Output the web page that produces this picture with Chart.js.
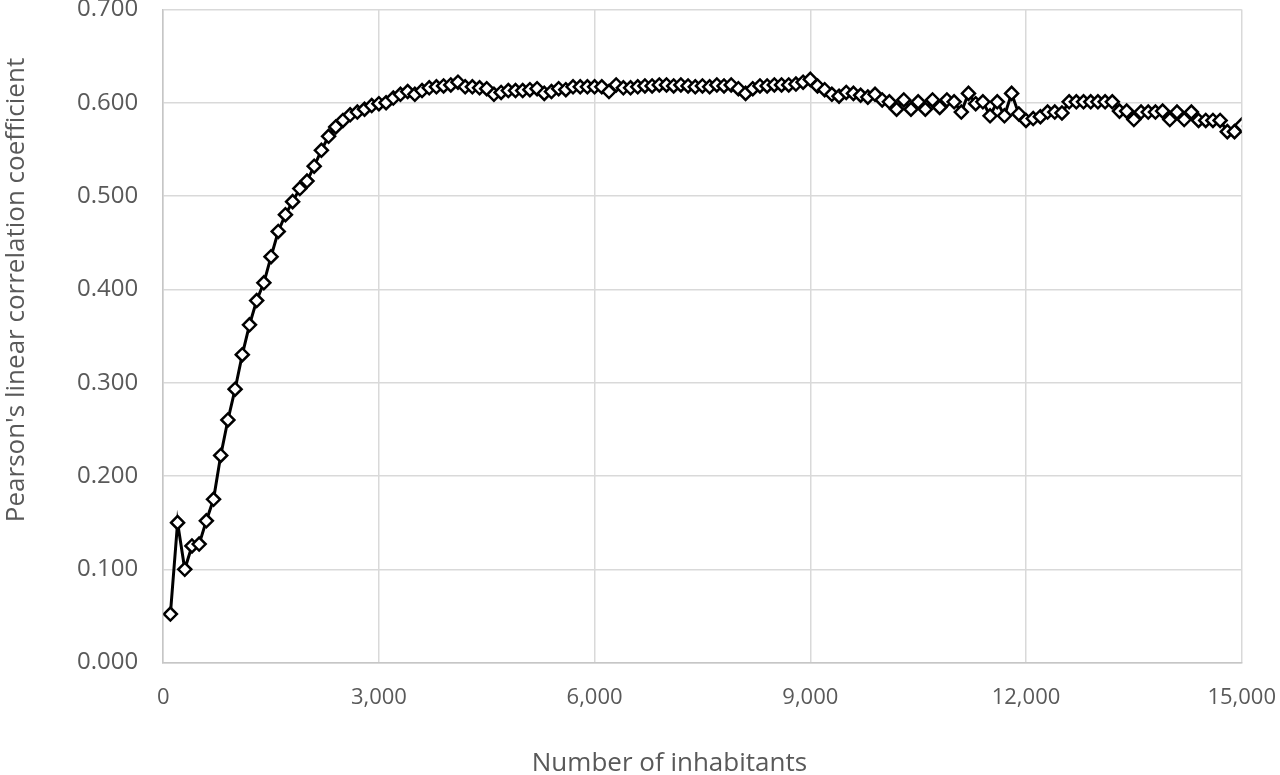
<!DOCTYPE html>
<html>
<head>
<meta charset="utf-8">
<script src="https://cdn.jsdelivr.net/npm/chart.js@4/dist/chart.umd.min.js"></script>
<style>
  html, body { margin: 0; padding: 0; background: #fff; }
  #wrap { position: relative; width: 1280px; height: 775px; overflow: hidden; }
  #chart { position: absolute; left: 0; top: -30px; }
</style>
</head>
<body>
<div id="wrap"><canvas id="chart" width="1298" height="809"></canvas></div>
<script>
// Number of inhabitants (x) and Pearson's r (y)
const inhabitants = [
  100, 200, 300, 400, 500, 600, 700, 800, 900, 1000,
  1100, 1200, 1300, 1400, 1500, 1600, 1700, 1800, 1900, 2000,
  2100, 2200, 2300, 2400, 2500, 2600, 2700, 2800, 2900, 3000,
  3100, 3200, 3300, 3400, 3500, 3600, 3700, 3800, 3900, 4000,
  4100, 4200, 4300, 4400, 4500, 4600, 4700, 4800, 4900, 5000,
  5100, 5200, 5300, 5400, 5500, 5600, 5700, 5800, 5900, 6000,
  6100, 6200, 6300, 6400, 6500, 6600, 6700, 6800, 6900, 7000,
  7100, 7200, 7300, 7400, 7500, 7600, 7700, 7800, 7900, 8000,
  8100, 8200, 8300, 8400, 8500, 8600, 8700, 8800, 8900, 9000,
  9100, 9200, 9300, 9400, 9500, 9600, 9700, 9800, 9900, 10000,
  10100, 10200, 10300, 10400, 10500, 10600, 10700, 10800, 10900, 11000,
  11100, 11200, 11300, 11400, 11500, 11600, 11700, 11800, 11900, 12000,
  12100, 12200, 12300, 12400, 12500, 12600, 12700, 12800, 12900, 13000,
  13100, 13200, 13300, 13400, 13500, 13600, 13700, 13800, 13900, 14000,
  14100, 14200, 14300, 14400, 14500, 14600, 14700, 14800, 14900, 15000
];

const pearsonR = [
  0.052, 0.150, 0.100, 0.125, 0.127, 0.152, 0.175, 0.222, 0.260, 0.293,
  0.330, 0.362, 0.388, 0.407, 0.435, 0.462, 0.480, 0.494, 0.508, 0.516,
  0.532, 0.549, 0.564, 0.574, 0.581, 0.587, 0.590, 0.593, 0.597, 0.599,
  0.600, 0.605, 0.609, 0.612, 0.609, 0.613, 0.616, 0.617, 0.618, 0.619,
  0.622, 0.617, 0.617, 0.616, 0.615, 0.609, 0.611, 0.613, 0.613, 0.613,
  0.614, 0.615, 0.610, 0.612, 0.615, 0.614, 0.617, 0.617, 0.617, 0.617,
  0.617, 0.612, 0.619, 0.616, 0.616, 0.617, 0.618, 0.618, 0.619, 0.619,
  0.618, 0.619, 0.618, 0.617, 0.618, 0.617, 0.619, 0.618, 0.619, 0.615,
  0.610, 0.615, 0.618, 0.618, 0.619, 0.619, 0.619, 0.620, 0.622, 0.625,
  0.618, 0.614, 0.609, 0.607, 0.611, 0.610, 0.608, 0.606, 0.609, 0.603,
  0.601, 0.593, 0.603, 0.593, 0.601, 0.593, 0.603, 0.595, 0.603, 0.601,
  0.590, 0.610, 0.599, 0.601, 0.586, 0.601, 0.586, 0.610, 0.588, 0.581,
  0.583, 0.585, 0.590, 0.590, 0.589, 0.601, 0.601, 0.601, 0.601, 0.601,
  0.601, 0.601, 0.591, 0.591, 0.582, 0.590, 0.590, 0.590, 0.591, 0.582,
  0.590, 0.582, 0.590, 0.581, 0.581, 0.581, 0.581, 0.569, 0.569, 0.576
];

const xTitle = 'Number of inhabitants';
const yTitle = "Pearson's linear correlation coefficient";

const textColor = '#595959';
const gridColor = '#d9d9d9';
const fontFamily = "'Open Sans', 'Liberation Sans', sans-serif";

const points = inhabitants.map((x, i) => ({ x: x, y: pearsonR[i] }));

// axis titles drawn by hand: in the original both sit a little off-centre
const axisTitles = {
    id: 'axisTitles',
    afterDraw(chart) {
        const ctx = chart.ctx;
        const area = chart.chartArea;
        ctx.save();
        ctx.fillStyle = textColor;
        ctx.font = '26px ' + fontFamily;
        ctx.textAlign = 'center';
        ctx.textBaseline = 'middle';
        ctx.fillText(xTitle, (area.left + area.right) / 2 - 33, area.bottom + 101);
        ctx.translate(area.left - 147, (area.top + area.bottom) / 2 - 46);
        ctx.rotate(-Math.PI / 2);
        ctx.fillText(yTitle, 0, 0);
        ctx.restore();
    }
};

new Chart(document.getElementById('chart'), {
    type: 'line',
    data: {
        datasets: [{
            data: points,
            borderColor: '#000',
            borderWidth: 3,
            tension: 0,
            pointStyle: 'rectRot',
            pointRadius: 6.5,
            pointBorderWidth: 2.5,
            pointBackgroundColor: '#fff',
            pointBorderColor: '#000'
        }]
    },
    options: {
        responsive: false,
        animation: false,
        layout: { padding: { left: 52, right: 0, top: 0, bottom: 46 } },
        plugins: {
            legend: { display: false },
            tooltip: { enabled: false }
        },
        scales: {
            x: {
                type: 'linear',
                min: 0,
                max: 15000,
                grid: { color: gridColor, lineWidth: 1.5, drawTicks: false },
                border: { color: '#c6c6c6', width: 1.5 },
                ticks: {
                    stepSize: 3000,
                    padding: 22,
                    color: textColor,
                    font: { family: fontFamily, size: 22 },
                    maxRotation: 0,
                    callback: v => v.toLocaleString('en-US')
                }
            },
            y: {
                min: 0,
                max: 0.7,
                grid: { color: gridColor, lineWidth: 1.5, drawTicks: false },
                border: { color: '#c6c6c6', width: 1.5 },
                ticks: {
                    stepSize: 0.1,
                    padding: 25,
                    color: textColor,
                    font: { family: fontFamily, size: 24 },
                    callback: v => v.toFixed(3)
                }
            }
        }
    },
    plugins: [axisTitles]
});
</script>
</body>
</html>
